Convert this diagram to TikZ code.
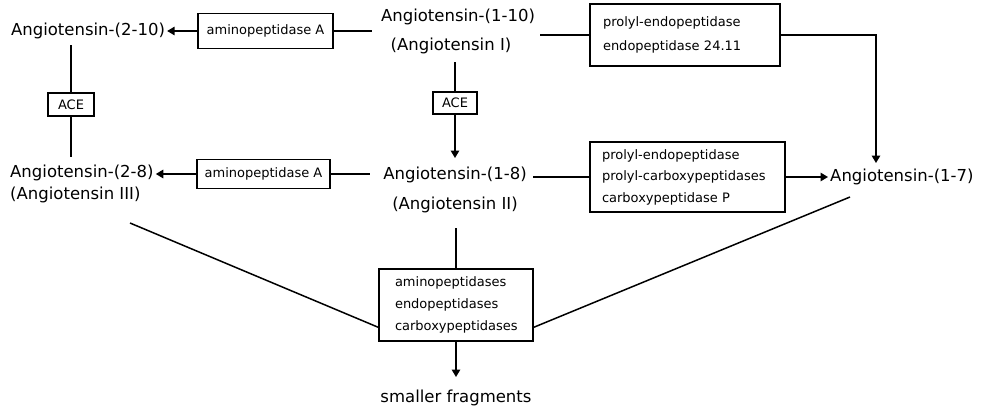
\documentclass[tikz,border=0pt]{standalone}
\usepackage{fontspec}
\setmainfont{DejaVu Sans}
\usetikzlibrary{arrows.meta}
\begin{document}
\begin{tikzpicture}[x=1pt,y=-1pt,
  big/.style={font=\fontsize{16.5}{20}\selectfont, inner sep=0pt},
  box/.style={draw, line width=1.5pt, font=\fontsize{13}{22}\selectfont, align=left, inner ysep=0pt},
  smallbox/.style={draw, line width=1.5pt, font=\fontsize{13}{15}\selectfont, inner sep=0pt},
  conn/.style={line width=1.5pt},
  arr/.style={conn, -{Triangle[width=8.5pt,length=7.5pt]}, shorten >=2pt}]
\useasboundingbox (0,0) rectangle (981,408);

% text nodes
\node[big] (A210) at (88,31) {Angiotensin-(2-10)};
\node[big] (A110) at (458,17) {Angiotensin-(1-10)};
\node[big] (AI) at (451,46) {(Angiotensin I)};
\node[big, anchor=west] (A28) at (10,173) {Angiotensin-(2-8)};
\node[big, anchor=west] (AIII) at (10,195) {(Angiotensin III)};
\node[big] (A18) at (455,175) {Angiotensin-(1-8)};
\node[big] (AII) at (455,205) {(Angiotensin II)};
\node[big, anchor=west] (A17) at (830,177) {Angiotensin-(1-7)};
\node[big] (SF) at (456,398) {smaller fragments};

% boxes
\node[smallbox, minimum width=135, minimum height=35] (B1) at (265.5,31) {aminopeptidase A};
\node[smallbox, minimum width=133, minimum height=29] (B2) at (263.5,174) {aminopeptidase A};
\node[box, minimum width=190, minimum height=62, inner xsep=13pt, text width=164pt,
      font=\fontsize{13}{24}\selectfont] (B4) at (685,35) {prolyl-endopeptidase\\endopeptidase 24.11};
\node[box, minimum width=195, minimum height=70, inner xsep=12pt, text width=171pt,
      font=\fontsize{13}{21.5}\selectfont] (B3) at (687.5,177) {prolyl-endopeptidase\\prolyl-carboxypeptidases\\carboxypeptidase P};
\node[box, minimum width=154, minimum height=72, inner xsep=16pt, text width=122pt] (B5) at (456,305)
      {aminopeptidases\\endopeptidases\\carboxypeptidases};
\node[smallbox, minimum width=46, minimum height=23] (ACEL) at (71,104.5) {ACE};
\node[smallbox, minimum width=44, minimum height=22] (ACEM) at (455,103) {ACE};

% free ends
\coordinate (c1) at (372,31);
\coordinate (c2) at (540,35);
\coordinate (c3) at (876,35);
\coordinate (t17) at (876,165);
\coordinate (c4) at (455,62);
\coordinate (t18) at (455,160);
\coordinate (c5) at (71,45);
\coordinate (c6) at (71,157);
\coordinate (c7) at (370,174);
\coordinate (c8) at (533,177);
\coordinate (c9) at (456,228);
\coordinate (t5) at (456,379);
\coordinate (c10) at (130,223);
\coordinate (c11) at (850,197);

% connectors
\draw[arr] (B1.west) -- (A210.east);
\draw[conn] (B1.east) -- (c1);
\draw[conn] (c2) -- (B4.west);
\draw[arr] (B4.east) -- (c3) -- (t17);
\draw[conn] (c4) -- (ACEM.north);
\draw[arr] (ACEM.south) -- (t18);
\draw[conn] (c5) -- (ACEL.north);
\draw[conn] (ACEL.south) -- (c6);
\draw[arr] (B2.west) -- (B2.west -| A28.east);
\draw[conn] (B2.east) -- (c7);
\draw[conn] (c8) -- (B3.west);
\draw[arr] (B3.east) -- (A17.west);
\draw[conn] (c9) -- (B5.north);
\draw[arr] (B5.south) -- (t5);
\draw[conn] (c10) -- (B5.196);
\draw[conn] (c11) -- (B5.344);
\end{tikzpicture}
\end{document}
